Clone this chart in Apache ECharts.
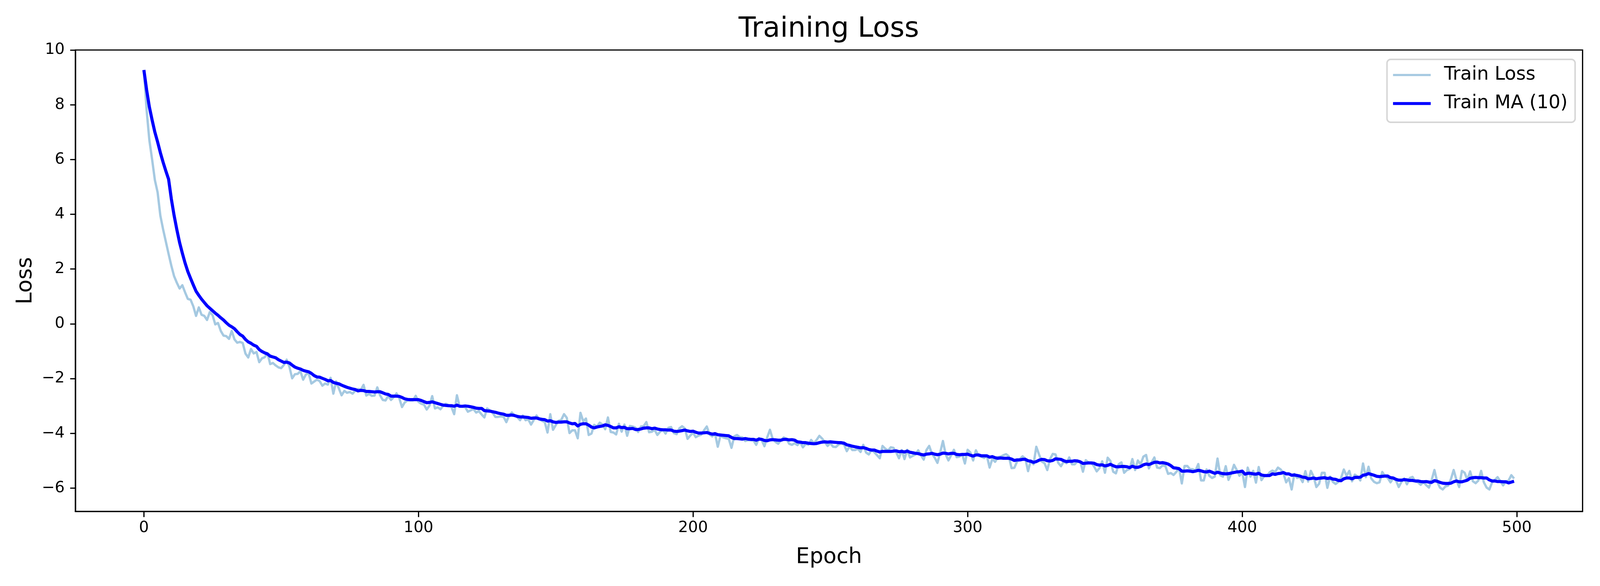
<!DOCTYPE html>
<html lang="en">
<head>
<meta charset="UTF-8">
<title>Training Loss</title>
<script src="https://cdn.jsdelivr.net/npm/echarts@6/dist/echarts.min.js"></script>
<style>
    html, body { margin: 0; padding: 0; background: #fff; overflow: hidden; }
    #main { width: 100vw; height: 100vh; }
</style>
</head>
<body>
<div id="main"></div>
<script>
// x ticks / y ticks of the axes
const xTicks = [0, 100, 200, 300, 400, 500];
const yTicks = [-6, -4, -2, 0, 2, 4, 6, 8, 10];

// raw training loss, one value per epoch (0..499)
const trainLoss = [
    9.27, 7.80, 6.70, 6.00, 5.25, 4.80, 3.95, 3.45, 3.00, 2.55,
    2.12, 1.74, 1.50, 1.29, 1.41, 1.15, 0.91, 0.88, 0.64, 0.29,
    0.60, 0.33, 0.29, 0.14, 0.43, 0.32, -0.02, 0.03, -0.26, -0.43,
    -0.45, -0.55, -0.26, -0.57, -0.69, -0.66, -0.70, -1.09, -1.23, -0.92,
    -1.08, -1.03, -1.40, -1.26, -1.22, -1.07, -1.47, -1.43, -1.52, -1.59,
    -1.62, -1.50, -1.31, -1.57, -1.99, -1.84, -1.83, -1.73, -2.04, -1.85,
    -1.80, -2.18, -2.11, -2.04, -2.09, -2.26, -2.18, -2.22, -1.97, -2.55,
    -2.10, -2.36, -2.61, -2.45, -2.52, -2.49, -2.55, -2.44, -2.38, -2.41,
    -2.23, -2.62, -2.56, -2.63, -2.62, -2.32, -2.61, -2.78, -2.80, -2.63,
    -2.78, -2.68, -2.54, -2.71, -3.04, -2.87, -2.80, -2.80, -2.80, -2.63,
    -2.85, -2.92, -2.95, -3.13, -2.99, -2.64, -3.09, -3.05, -3.12, -2.99,
    -2.92, -2.97, -3.04, -3.30, -2.61, -3.02, -3.03, -3.04, -3.21, -3.16,
    -3.11, -3.24, -3.19, -3.31, -3.42, -3.09, -3.16, -3.25, -3.40, -3.40,
    -3.38, -3.40, -3.59, -3.35, -3.24, -3.35, -3.41, -3.52, -3.35, -3.52,
    -3.49, -3.68, -3.51, -3.35, -3.49, -3.54, -3.59, -3.97, -3.30, -3.87,
    -3.70, -3.54, -3.51, -3.30, -3.43, -3.99, -3.89, -3.89, -4.18, -3.25,
    -3.56, -3.46, -4.06, -4.01, -3.69, -3.75, -3.61, -3.68, -3.85, -3.42,
    -3.95, -3.97, -4.04, -3.65, -3.94, -3.68, -4.09, -3.73, -3.75, -3.79,
    -3.95, -3.75, -3.74, -3.59, -3.96, -3.94, -3.87, -4.06, -3.94, -3.87,
    -4.01, -3.80, -3.77, -3.99, -4.03, -3.82, -3.74, -3.82, -4.20, -4.08,
    -3.98, -4.14, -4.08, -4.05, -3.89, -3.75, -4.04, -4.11, -4.01, -4.49,
    -4.08, -4.15, -4.18, -4.20, -4.53, -4.11, -4.06, -4.14, -4.15, -4.28,
    -4.25, -4.25, -4.26, -4.42, -4.17, -4.25, -4.47, -4.15, -3.87, -4.20,
    -4.31, -4.38, -4.25, -4.15, -4.20, -4.38, -4.42, -4.36, -4.43, -4.32,
    -4.51, -4.39, -4.41, -4.24, -4.36, -4.24, -4.09, -4.19, -4.32, -4.46,
    -4.36, -4.49, -4.50, -4.41, -4.37, -4.41, -4.65, -4.47, -4.61, -4.61,
    -4.56, -4.68, -4.42, -4.70, -4.77, -4.61, -4.69, -4.80, -4.91, -4.46,
    -4.56, -4.63, -4.51, -4.53, -4.70, -4.91, -4.61, -4.94, -4.60, -4.88,
    -4.82, -4.77, -4.62, -4.80, -4.96, -4.61, -4.46, -4.75, -4.89, -5.08,
    -4.70, -4.28, -4.77, -4.99, -4.80, -4.60, -4.87, -4.85, -4.76, -5.10,
    -4.60, -4.70, -4.99, -4.62, -4.82, -4.85, -4.90, -4.82, -5.25, -4.93,
    -5.04, -4.87, -4.85, -4.80, -4.76, -4.84, -5.27, -5.26, -5.03, -4.94,
    -4.84, -4.92, -5.38, -4.99, -5.13, -4.49, -4.77, -5.03, -5.09, -5.34,
    -4.94, -4.75, -4.77, -5.08, -5.20, -5.03, -5.09, -4.88, -5.13, -5.13,
    -5.03, -5.03, -5.40, -4.98, -5.06, -5.08, -5.20, -5.39, -5.27, -5.02,
    -5.44, -4.89, -5.01, -5.40, -5.46, -5.13, -5.06, -5.44, -5.34, -5.30,
    -4.94, -5.34, -4.99, -5.13, -4.85, -4.79, -5.28, -5.06, -4.88, -5.25,
    -5.27, -5.17, -5.19, -5.48, -5.45, -5.52, -5.41, -5.27, -5.83, -5.19,
    -5.19, -5.31, -5.31, -5.36, -5.12, -5.72, -5.72, -5.32, -5.55, -5.63,
    -5.58, -4.92, -5.53, -5.58, -5.20, -5.70, -5.46, -5.15, -5.34, -5.55,
    -5.41, -5.96, -5.25, -5.58, -5.37, -5.80, -5.23, -5.71, -5.56, -5.56,
    -5.42, -5.36, -5.41, -5.25, -5.32, -5.46, -5.79, -5.64, -6.05, -5.48,
    -5.63, -5.60, -5.78, -5.38, -5.76, -5.37, -5.58, -5.96, -5.84, -5.44,
    -5.44, -5.99, -5.58, -5.77, -5.85, -5.77, -5.63, -5.32, -5.55, -5.37,
    -5.75, -5.51, -5.57, -5.72, -5.10, -5.60, -5.22, -5.65, -5.77, -5.82,
    -5.79, -5.41, -5.56, -5.63, -5.79, -5.64, -5.72, -5.96, -5.77, -5.65,
    -5.86, -5.63, -5.59, -5.75, -5.79, -5.88, -5.78, -5.89, -5.98, -5.70,
    -5.34, -5.77, -5.98, -6.05, -5.94, -5.91, -5.67, -5.34, -5.70, -5.96,
    -5.37, -5.44, -5.70, -5.39, -5.75, -5.82, -5.72, -5.37, -5.79, -5.98,
    -6.05, -5.79, -5.70, -5.60, -5.75, -5.90, -5.77, -5.72, -5.53, -5.65
];

// 10-epoch moving average line
const trainMA = [
    9.27, 8.54, 7.92, 7.44, 7.00, 6.64, 6.25, 5.90, 5.58, 5.28,
    4.56, 3.96, 3.44, 2.97, 2.58, 2.22, 1.91, 1.66, 1.42, 1.19,
    1.04, 0.90, 0.78, 0.66, 0.57, 0.48, 0.39, 0.31, 0.22, 0.14,
    0.04, -0.05, -0.11, -0.18, -0.29, -0.39, -0.45, -0.57, -0.66, -0.71,
    -0.78, -0.82, -0.94, -1.01, -1.06, -1.10, -1.18, -1.21, -1.24, -1.31,
    -1.36, -1.41, -1.40, -1.43, -1.51, -1.58, -1.62, -1.65, -1.70, -1.73,
    -1.75, -1.81, -1.89, -1.94, -1.95, -1.99, -2.03, -2.08, -2.07, -2.14,
    -2.17, -2.19, -2.24, -2.28, -2.32, -2.35, -2.38, -2.40, -2.45, -2.43,
    -2.44, -2.47, -2.47, -2.48, -2.49, -2.48, -2.48, -2.52, -2.56, -2.58,
    -2.64, -2.64, -2.64, -2.65, -2.69, -2.74, -2.76, -2.77, -2.77, -2.77,
    -2.77, -2.80, -2.84, -2.88, -2.87, -2.85, -2.88, -2.91, -2.94, -2.97,
    -2.98, -2.99, -2.99, -3.01, -2.97, -3.01, -3.01, -3.00, -3.01, -3.03,
    -3.05, -3.08, -3.09, -3.09, -3.17, -3.18, -3.19, -3.21, -3.23, -3.26,
    -3.28, -3.30, -3.34, -3.34, -3.33, -3.35, -3.38, -3.40, -3.40, -3.41,
    -3.42, -3.45, -3.44, -3.44, -3.47, -3.49, -3.50, -3.55, -3.54, -3.58,
    -3.60, -3.59, -3.59, -3.58, -3.58, -3.62, -3.65, -3.64, -3.73, -3.67,
    -3.65, -3.65, -3.70, -3.77, -3.80, -3.77, -3.75, -3.73, -3.69, -3.71,
    -3.75, -3.80, -3.80, -3.76, -3.79, -3.78, -3.83, -3.83, -3.82, -3.86,
    -3.86, -3.84, -3.81, -3.80, -3.80, -3.83, -3.81, -3.84, -3.86, -3.87,
    -3.87, -3.88, -3.88, -3.92, -3.93, -3.92, -3.90, -3.88, -3.91, -3.93,
    -3.92, -3.96, -3.99, -3.99, -3.98, -3.97, -4.00, -4.03, -4.01, -4.05,
    -4.06, -4.07, -4.08, -4.09, -4.15, -4.19, -4.19, -4.20, -4.21, -4.19,
    -4.21, -4.22, -4.22, -4.25, -4.21, -4.22, -4.26, -4.27, -4.24, -4.23,
    -4.24, -4.25, -4.25, -4.22, -4.22, -4.24, -4.23, -4.25, -4.31, -4.32,
    -4.34, -4.34, -4.36, -4.37, -4.38, -4.37, -4.34, -4.32, -4.31, -4.32,
    -4.31, -4.32, -4.33, -4.34, -4.34, -4.36, -4.42, -4.44, -4.47, -4.49,
    -4.51, -4.53, -4.52, -4.55, -4.59, -4.61, -4.61, -4.65, -4.68, -4.66,
    -4.66, -4.66, -4.66, -4.65, -4.64, -4.67, -4.66, -4.68, -4.65, -4.69,
    -4.71, -4.73, -4.74, -4.77, -4.79, -4.76, -4.75, -4.73, -4.76, -4.78,
    -4.76, -4.72, -4.73, -4.75, -4.73, -4.73, -4.77, -4.78, -4.77, -4.77,
    -4.76, -4.80, -4.83, -4.79, -4.79, -4.82, -4.82, -4.82, -4.87, -4.85,
    -4.89, -4.91, -4.90, -4.91, -4.91, -4.91, -4.94, -4.99, -4.97, -4.97,
    -4.95, -4.95, -5.00, -5.02, -5.06, -5.03, -4.98, -4.95, -4.96, -5.00,
    -5.01, -4.99, -4.93, -4.94, -4.95, -5.00, -5.03, -5.02, -5.02, -5.00,
    -5.01, -5.04, -5.10, -5.09, -5.08, -5.08, -5.09, -5.14, -5.16, -5.15,
    -5.19, -5.17, -5.13, -5.18, -5.22, -5.22, -5.21, -5.21, -5.22, -5.25,
    -5.20, -5.24, -5.24, -5.21, -5.15, -5.12, -5.14, -5.10, -5.06, -5.05,
    -5.08, -5.07, -5.09, -5.12, -5.18, -5.26, -5.27, -5.29, -5.38, -5.38,
    -5.37, -5.38, -5.40, -5.38, -5.35, -5.37, -5.40, -5.41, -5.38, -5.42,
    -5.46, -5.42, -5.45, -5.47, -5.48, -5.47, -5.45, -5.43, -5.41, -5.40,
    -5.38, -5.49, -5.46, -5.46, -5.48, -5.49, -5.46, -5.52, -5.54, -5.54,
    -5.54, -5.48, -5.50, -5.47, -5.46, -5.43, -5.48, -5.48, -5.53, -5.52,
    -5.54, -5.56, -5.60, -5.61, -5.66, -5.65, -5.63, -5.66, -5.64, -5.63,
    -5.62, -5.65, -5.63, -5.67, -5.68, -5.72, -5.73, -5.66, -5.63, -5.63,
    -5.66, -5.61, -5.61, -5.60, -5.53, -5.51, -5.47, -5.50, -5.53, -5.57,
    -5.58, -5.57, -5.56, -5.56, -5.62, -5.63, -5.68, -5.71, -5.71, -5.69,
    -5.70, -5.72, -5.72, -5.74, -5.74, -5.76, -5.77, -5.76, -5.78, -5.79,
    -5.73, -5.75, -5.79, -5.82, -5.83, -5.83, -5.82, -5.77, -5.74, -5.77,
    -5.77, -5.74, -5.71, -5.64, -5.62, -5.61, -5.62, -5.62, -5.63, -5.63,
    -5.70, -5.74, -5.74, -5.76, -5.76, -5.77, -5.77, -5.81, -5.78, -5.75
];

// epoch index of every value
const epochs = trainLoss.map((v, i) => i);

const FONT = 'DejaVu Sans';
// matplotlib style minus sign on tick labels
const tickText = v => (v < 0 ? '\u2212' + Math.abs(v) : String(v));

// layout numbers below are for a 4500x1500 page; fit them to the css viewport we get
const SX = (window.innerWidth || 4500) / 4500;
const SY = (window.innerHeight || 1500) / 1500;
const SF = Math.sqrt(SX * SY);
const px = v => v * SX;   // horizontal
const py = v => v * SY;   // vertical
const pf = v => v * SF;   // font sizes and line widths

const chart = echarts.init(document.getElementById('main'), null, { renderer: 'canvas' });

const option = {
    animation: false,
    backgroundColor: '#ffffff',
    textStyle: { fontFamily: FONT },
    title: {
        text: 'Training Loss',
        left: px(2331),
        top: py(38),
        textAlign: 'center',
        padding: 0,
        textStyle: { fontFamily: FONT, fontSize: pf(75), fontWeight: 'normal', color: '#000', lineHeight: py(75) }
    },
    grid: {
        left: px(212), right: px(49), top: py(128), bottom: py(191),
        containLabel: false,
        outerBoundsMode: 'none',
        show: true,
        borderColor: '#000',
        borderWidth: pf(3.3),
        backgroundColor: 'transparent'
    },
    legend: {
        orient: 'vertical',
        right: px(70),
        top: py(152),
        selectedMode: false,
        data: [
            { name: 'Train Loss', icon: 'path://M0,0H106V6.25H0Z' },
            { name: 'Train MA (10)', icon: 'path://M0,0H106V8.33H0Z' }
        ],
        symbolKeepAspect: true,
        itemWidth: px(106),
        itemHeight: py(50),
        itemGap: py(25),
        padding: [py(16), px(21), py(24), px(17)],
        backgroundColor: 'rgba(255,255,255,0.8)',
        borderColor: '#d6d6d6',
        borderWidth: pf(4),
        borderRadius: pf(10),
        textStyle: { fontFamily: FONT, fontSize: pf(50), color: '#000', padding: [0, 0, 0, px(32)] }
    },
    xAxis: {
        type: 'value',
        min: -24.95,
        max: 523.95,
        name: 'Epoch',
        nameLocation: 'middle',
        nameGap: py(89),
        nameTextStyle: { fontFamily: FONT, fontSize: pf(58), color: '#000', lineHeight: py(58) },
        axisLine: { show: true, onZero: false, lineStyle: { color: '#000', width: pf(3.3) } },
        axisTick: { show: true, inside: false, length: py(14.6), customValues: xTicks, lineStyle: { color: '#000', width: pf(3.3) } },
        axisLabel: { show: true, customValues: xTicks, formatter: tickText, margin: py(23), fontFamily: FONT, fontSize: pf(41.7), color: '#000' },
        splitLine: { show: false }
    },
    yAxis: {
        type: 'value',
        min: -6.85,
        max: 10,
        name: 'Loss',
        nameLocation: 'middle',
        nameRotate: 90,
        nameGap: px(111),
        nameTextStyle: { fontFamily: FONT, fontSize: pf(58), color: '#000', lineHeight: px(58) },
        axisLine: { show: true, onZero: false, lineStyle: { color: '#000', width: pf(3.3) } },
        axisTick: { show: true, inside: false, length: px(14.6), customValues: yTicks, lineStyle: { color: '#000', width: pf(3.3) } },
        axisLabel: { show: true, customValues: yTicks, formatter: tickText, margin: px(30), fontFamily: FONT, fontSize: pf(41.7), color: '#000' },
        splitLine: { show: false }
    },
    series: [
        {
            name: 'Train Loss',
            type: 'line',
            data: epochs.map((e, i) => [e, trainLoss[i]]),
            symbol: 'none',
            showSymbol: false,
            silent: true,
            z: 2,
            itemStyle: { color: '#a5c9e1' },
            lineStyle: { color: '#a5c9e1', width: pf(6.25), join: 'round' }
        },
        {
            name: 'Train MA (10)',
            type: 'line',
            data: epochs.map((e, i) => [e, trainMA[i]]),
            symbol: 'none',
            showSymbol: false,
            silent: true,
            z: 3,
            itemStyle: { color: '#0000ff' },
            lineStyle: { color: '#0000ff', width: pf(8.33), join: 'round' }
        }
    ]
};

chart.setOption(option);
</script>
</body>
</html>
